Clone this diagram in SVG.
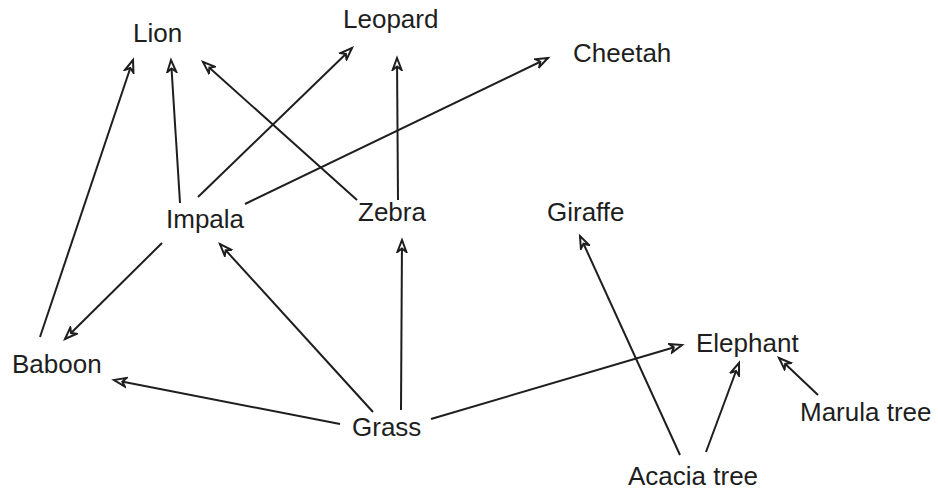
<svg xmlns="http://www.w3.org/2000/svg" width="938" height="490" viewBox="0 0 938 490">
<style>
text{font-family:"Liberation Sans",Arial,sans-serif;font-size:26px;fill:#1e1e1e}
.e line{stroke:#1e1e1e;stroke-width:2;fill:none;marker-end:url(#ah)}
</style>
<defs>
<marker id="ah" markerUnits="userSpaceOnUse" markerWidth="16" markerHeight="14" refX="13" refY="6" orient="auto" viewBox="0 0 16 12">
<path d="M1,1.5 L13,6 L1,10.5 L4.5,6 Z" fill="#fff" stroke="#1e1e1e" stroke-width="2" stroke-linejoin="miter"/>
</marker>
</defs>
<rect width="938" height="490" fill="#fff"/>
<g id="lion"><text x="133" y="42">Lion</text></g>
<g id="leopard"><text x="343" y="28">Leopard</text></g>
<g id="cheetah"><text x="573" y="62">Cheetah</text></g>
<g id="impala"><text x="166" y="228">Impala</text></g>
<g id="zebra"><text x="358" y="221">Zebra</text></g>
<g id="giraffe"><text x="547" y="221">Giraffe</text></g>
<g id="baboon"><text x="12" y="373">Baboon</text></g>
<g id="elephant"><text x="696" y="352">Elephant</text></g>
<g id="grass"><text x="352" y="436">Grass</text></g>
<g id="marula"><text x="800" y="421">Marula tree</text></g>
<g id="acacia"><text x="628" y="485">Acacia tree</text></g>
<g id="connectors" class="e">
<line x1="40" y1="337" x2="133" y2="60"/>
<line x1="180" y1="203" x2="171" y2="60"/>
<line x1="357" y1="200" x2="203" y2="62"/>
<line x1="198" y1="197" x2="352" y2="48"/>
<line x1="398" y1="200" x2="397" y2="58"/>
<line x1="245" y1="204" x2="548" y2="58"/>
<line x1="162" y1="243" x2="65" y2="339"/>
<line x1="373" y1="412" x2="220" y2="244"/>
<line x1="340" y1="424" x2="114" y2="380"/>
<line x1="401" y1="410" x2="402" y2="240"/>
<line x1="431" y1="419" x2="682" y2="345"/>
<line x1="680" y1="455" x2="580" y2="236"/>
<line x1="706" y1="452" x2="739" y2="363"/>
<line x1="818" y1="395" x2="779" y2="358"/>
</g>
</svg>
